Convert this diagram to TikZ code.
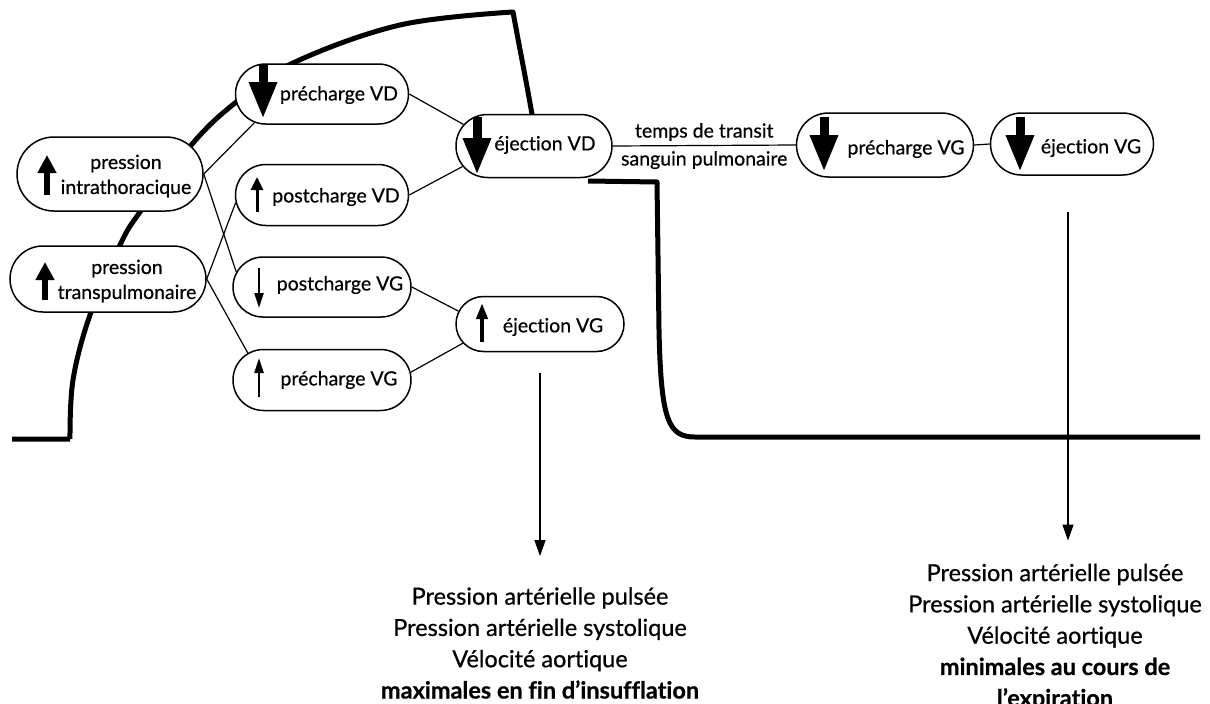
\documentclass[tikz,border=0pt]{standalone}
\usepackage{fontspec}
\setmainfont{Lato}[Ligatures=NoCommon]
\usetikzlibrary{arrows.meta,shapes.misc,calc}
\begin{document}
\begin{tikzpicture}[x=1pt,y=-1pt,
  box/.style={rounded rectangle, draw, line width=1.5pt, fill=white, inner sep=0pt},
  lbl/.style={inner sep=0pt, align=center, font=\addfontfeature{FakeBold=0.6}\fontsize{19.5}{25}\selectfont},
  link/.style={line width=1.2pt},
  wave/.style={line width=5pt, line join=round},
  flow/.style={line width=1.2pt, -{Triangle[length=16pt,width=11pt]}},
  summary/.style={align=center, inner sep=0pt, font=\addfontfeature{FakeBold=0.6}\fontsize{23.5}{31.3}\selectfont},
  bigdown/.style={line width=9pt, -{Triangle[length=37pt,width=26pt]}},
  midup/.style={line width=6pt, -{Triangle[length=18pt,width=18pt]}},
  smallup/.style={line width=3pt, -{Triangle[length=13pt,width=12pt]}},
  thinarrow/.style={line width=2.2pt, -{Triangle[length=15pt,width=9pt]}},
  ejarrow/.style={line width=4pt, -{Triangle[length=16pt,width=11pt]}},
]
\useasboundingbox (0,0) rectangle (1210,704);
\clip (0,0) rectangle (1210,704);

% respiratory pressure curve, behind the boxes
\draw[wave] (12,439) -- (70,439)
  plot[smooth, tension=0.6] coordinates {(70,439) (73,380) (90,315) (120,245) (140,212) (193,143) (235,103) (293,63) (400,25) (513,12)}
  .. controls (519,45) and (527,85) .. (533,120) -- (545,170);
\draw[wave] (588,181) -- (657,182) -- (659,330)
  .. controls (661,420) and (668,437) .. (695,437) -- (1200,437);

% boxes
\node[box, minimum width=186pt, minimum height=74pt] (itp) at (110,174) {};
\node[box, minimum width=196pt, minimum height=66pt] (tpm) at (108,279) {};
\node[box, minimum width=173pt, minimum height=60pt] (pvd) at (322,94) {};
\node[box, minimum width=173pt, minimum height=61pt] (povd) at (322,195) {};
\node[box, minimum width=178pt, minimum height=60pt] (povg) at (322,287) {};
\node[box, minimum width=178pt, minimum height=61pt] (prvg) at (322,380) {};
\node[box, minimum width=168pt, minimum height=55pt] (ejvg) at (540,324) {};
\node[box, minimum width=156pt, minimum height=63pt] (ejvd) at (534,146) {};
\node[box, minimum width=177pt, minimum height=64pt] (prvgb) at (885,145) {};
\node[box, minimum width=163pt, minimum height=62pt] (ejvgb) at (1072,144) {};

% links between boxes
\draw[link] (itp.east) -- (pvd.203);
\draw[link] (itp.east) -- (povg.170);
\draw[link] (tpm.east) -- (povd.185);
\draw[link] (tpm.east) -- (prvg.160);
\draw[link] (pvd.east) -- (ejvd.163);
\draw[link] (povd.east) -- (ejvd.196);
\draw[link] (povg.east) -- (ejvg.171);
\draw[link] (prvg.5) -- (ejvg.194);
\draw[link] (ejvd.east) -- node[lbl, above=4pt] (tt1) {temps de transit}
  node[lbl, below=5pt] (tt2) {sanguin pulmonaire} (prvgb.west);
\draw[link] (prvgb.east) -- (ejvgb.west);

% direction arrows inside the boxes
\draw[midup] (47,195) -- (47,155);
\draw[midup] (45,300) -- (45,262);
\draw[bigdown] (263,65) -- (263,119);
\draw[smallup] (257,212) -- (257,177);
\draw[thinarrow] (259,268) -- (259,308);
\draw[thinarrow] (259,397) -- (259,358);
\draw[ejarrow] (482,342) -- (482,303);
\draw[bigdown] (477,117) -- (477,175);
\draw[bigdown] (824,117) -- (824,172);
\draw[bigdown] (1020,117) -- (1020,172);

% box texts
\node[lbl] (titp) at (126,176) {pression\\intrathoracique};
\node[lbl] (ttpm) at (127,281) {pression\\transpulmonaire};
\node[lbl] (tpvd) at (339,95) {précharge VD};
\node[lbl] (tpovd) at (336,197) {postcharge VD};
\node[lbl] (tpovg) at (340,285) {postcharge VG};
\node[lbl] (tprvg) at (339,380) {précharge VG};
\node[lbl] (tejvg) at (553,327) {éjection VG};
\node[lbl] (tejvd) at (545,145) {éjection VD};
\node[lbl] (tprvgb) at (906,149) {précharge VG};
\node[lbl] (tejvgb) at (1091,148) {éjection VG};

% consequences on arterial signals
\node[summary] (sumL) at (540,643) {Pression artérielle pulsée\\Pression artérielle systolique\\Vélocité aortique\\\textbf{maximales en fin d'insufflation}};
\node[summary] (sumR) at (1055,637) {Pression artérielle pulsée\\Pression artérielle systolique\\Vélocité aortique\\\textbf{minimales au cours de}\\\textbf{l'expiration}};

\coordinate (rtop) at (1068,212);
\draw[flow, shorten <=21pt, shorten >=31pt] (ejvg.south) -- (sumL.north);
\draw[flow, shorten >=23pt] (rtop) -- (rtop |- sumR.north);
\end{tikzpicture}
\end{document}
